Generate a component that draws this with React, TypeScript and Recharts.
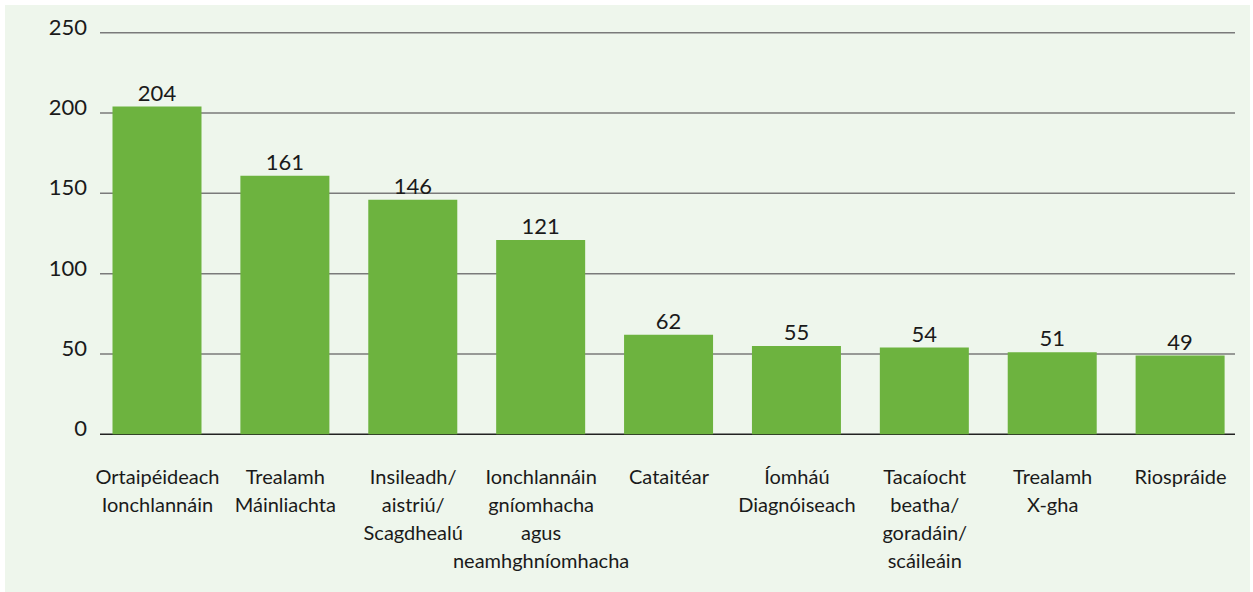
import { BarChart, Bar, XAxis, YAxis, CartesianGrid, LabelList } from 'recharts';

const categories = [
  'Ortaipéideach\nIonchlannáin',
  'Trealamh\nMáinliachta',
  'Insileadh/\naistriú/\nScagdhealú',
  'Ionchlannáin\ngníomhacha\nagus\nneamhghníomhacha',
  'Cataitéar',
  'Íomháú\nDiagnóiseach',
  'Tacaíocht\nbeatha/\ngoradáin/\nscáileáin',
  'Trealamh\nX-gha',
  'Riospráide',
];
const counts = [204, 161, 146, 121, 62, 55, 54, 51, 49];
const yTicks = [0, 50, 100, 150, 200, 250];

const data = categories.map((name, i) => ({ name, value: counts[i] }));

const FONT = 'Lato, "Open Sans", sans-serif';
const TEXT = '#1a1a1a';
const PLOT_BOTTOM = 429.3;

function CategoryTick({ x, y, payload }: any) {
  const lines = String(payload.value).split('\n');
  return (
    <text x={x} y={y} textAnchor="middle" fill={TEXT} fontSize={20} fontFamily={FONT}>
      {lines.map((l, i) => (
        <tspan key={i} x={x} dy={i === 0 ? 47.5 : 28}>{l}</tspan>
      ))}
    </text>
  );
}

function ValueTick({ x, y, payload }: any) {
  return (
    <text x={x} y={y} dy={2} textAnchor="end" fill={TEXT} fontSize={22} fontFamily={FONT}>
      {payload.value}
    </text>
  );
}

function GridLine(props: any) {
  const { x1, x2, y1 } = props;
  const isBase = y1 > PLOT_BOTTOM - 1;
  return (
    <line
      key={props.key}
      x1={x1 + 6.5}
      x2={x2 - 9.5}
      y1={y1}
      y2={y1}
      stroke={isBase ? '#222222' : '#7a7a7a'}
      strokeWidth={1.5}
    />
  );
}

export default function App() {
  return (
    <div style={{ position: 'absolute', left: 5, top: 5, width: 1245, height: 587, background: '#eef6ec' }}>
      <BarChart width={1245} height={587} data={data} margin={{ top: 27.7, right: 5.5, bottom: 0, left: 0 }}>
        <CartesianGrid vertical={false} horizontal={GridLine} />
        <XAxis dataKey="name" axisLine={false} tickLine={false} tickSize={0} interval={0} height={157.7} tick={<CategoryTick />} />
        <YAxis domain={[0, 250]} ticks={yTicks} axisLine={false} tickLine={false} tickSize={0} tickMargin={6.5} width={88.5} tick={<ValueTick />} />
        <Bar dataKey="value" fill="#6db33f" barSize={89} isAnimationActive={false}>
          <LabelList dataKey="value" position="top" offset={6} fill={TEXT} fontSize={22} fontFamily={FONT} />
        </Bar>
      </BarChart>
    </div>
  );
}
